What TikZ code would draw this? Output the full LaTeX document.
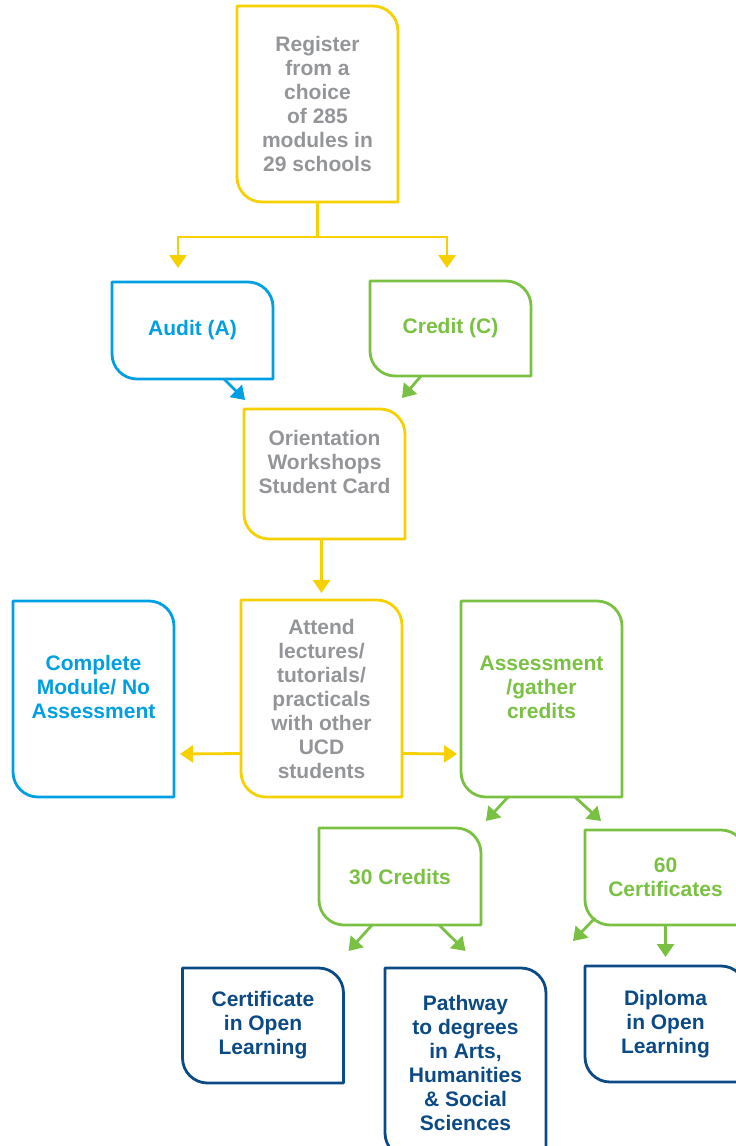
\documentclass[tikz,border=0pt]{standalone}
\usepackage{fontspec}
\setmainfont{Liberation Sans}
\usetikzlibrary{arrows.meta,positioning}
\definecolor{ucdyellow}{HTML}{F7D000}
\definecolor{ucdblue}{HTML}{009FE3}
\definecolor{ucdgreen}{HTML}{7AC143}
\definecolor{ucdnavy}{HTML}{0B4A85}
\definecolor{ucdgrey}{HTML}{939598}
\newcommand{\leafedge}[2]{\draw[draw=#2, line width=2.8pt, line join=round]
  (#1.north west) -- ([xshift=-25pt]#1.north east) arc[start angle=90, end angle=0, radius=25pt]
  -- (#1.south east) -- ([xshift=25pt]#1.south west) arc[start angle=270, end angle=180, radius=25pt] -- cycle;}
\begin{document}
\begin{tikzpicture}[x=1pt, y=-1pt,
  leaf/.style={inner sep=0pt, outer sep=0pt, minimum width=161pt, align=center, font=\fontsize{21}{24}\selectfont\bfseries},
  link/.style={line width=2.8pt, -{Triangle[width=17pt,length=13pt]}}]
\useasboundingbox (0,0) rectangle (736,1146);
\node[leaf, minimum height=196pt, text=ucdgrey] (reg) at (317.5,104) {Register\\from a\\choice\\of 285\\modules in\\29 schools};
\node[leaf, minimum height=97pt, text=ucdblue] (audit) at (192.5,330.5) {Audit (A)};
\node[leaf, minimum height=95pt, text=ucdgreen] (credit) at (450.5,328.5) {Credit (C)};
\node[leaf, minimum height=130pt, text=ucdgrey] (orient) at (324.5,474) {Orientation\\Workshops\\Student Card\\~};
\node[leaf, minimum height=197pt, text=ucdgrey] (attend) at (321.5,698.5) {Attend\\lectures/\\tutorials/\\practicals\\with other\\UCD\\students};
\node[leaf, minimum height=196pt, text=ucdblue] (complete) at (93.5,699) {Complete\\Module/ No\\Assessment\\~};
\node[leaf, minimum height=196pt, text=ucdgreen] (assess) at (541.5,699) {Assessment\\/gather\\credits\\~};
\node[leaf, minimum width=162pt, minimum height=97pt, text=ucdgreen] (thirty) at (400,876.5) {30 Credits};
\node[leaf, minimum height=95pt, text=ucdgreen] (sixty) at (665.5,877.5) {60\\Certificates};
\node[leaf, minimum height=115pt, text=ucdnavy] (cert) at (263,1025.5) {Certificate\\in Open\\Learning};
\node[leaf, minimum height=190pt, text=ucdnavy] (path) at (465.5,1063) {Pathway\\to degrees\\in Arts,\\Humanities\\\& Social\\Sciences};
\node[leaf, minimum height=116pt, text=ucdnavy] (dipl) at (665.5,1024) {Diploma\\in Open\\Learning};
\foreach \n/\col in {reg/ucdyellow, audit/ucdblue, credit/ucdgreen, orient/ucdyellow, attend/ucdyellow, complete/ucdblue, assess/ucdgreen, thirty/ucdgreen, sixty/ucdgreen, cert/ucdnavy, path/ucdnavy, dipl/ucdnavy}
  \leafedge{\n}{\col};
\coordinate (split) at ([yshift=-35pt]reg.south);
\coordinate (loose) at (573,941);
\draw[draw=ucdyellow, line width=2.8pt] (reg.south) -- (split);
\draw[link, ucdyellow] (split) -| ([xshift=-14.5pt, yshift=14pt]audit.north);
\draw[link, ucdyellow] (split) -| ([xshift=-3.5pt, yshift=13pt]credit.north);
\draw[link, ucdblue] ([xshift=31.5pt]audit.south) -- ([xshift=1pt, yshift=9pt]orient.north west);
\draw[link, ucdgreen] ([xshift=-29.5pt]credit.south) -- ([xshift=-3pt, yshift=11pt]orient.north east);
\draw[link, ucdyellow] (orient.south -| attend.north) -- ([yshift=7pt]attend.north);
\draw[link, ucdyellow] ([yshift=-55pt]attend.west) -- ([xshift=6pt, yshift=-55pt]complete.east);
\draw[link, ucdyellow] ([yshift=-55pt]attend.east) -- ([xshift=-4pt, yshift=-55pt]assess.west);
\draw[link, ucdgreen] ([xshift=-33.5pt]assess.south) -- ([xshift=5pt, yshift=7pt]thirty.north east);
\draw[link, ucdgreen] ([xshift=33.5pt]assess.south) -- ([xshift=16pt, yshift=9pt]sixty.north west);
\draw[link, ucdgreen] ([xshift=-28pt]thirty.south) -- ([xshift=5pt, yshift=17pt]cert.north east);
\draw[link, ucdgreen] ([xshift=39pt]thirty.south) -- ([yshift=17pt]path.north);
\draw[link, ucdgreen] ([xshift=10pt, yshift=7pt]sixty.south west) -- (loose);
\draw[link, ucdgreen] (sixty.south) -- ([yshift=9pt]dipl.north);
\end{tikzpicture}
\end{document}
